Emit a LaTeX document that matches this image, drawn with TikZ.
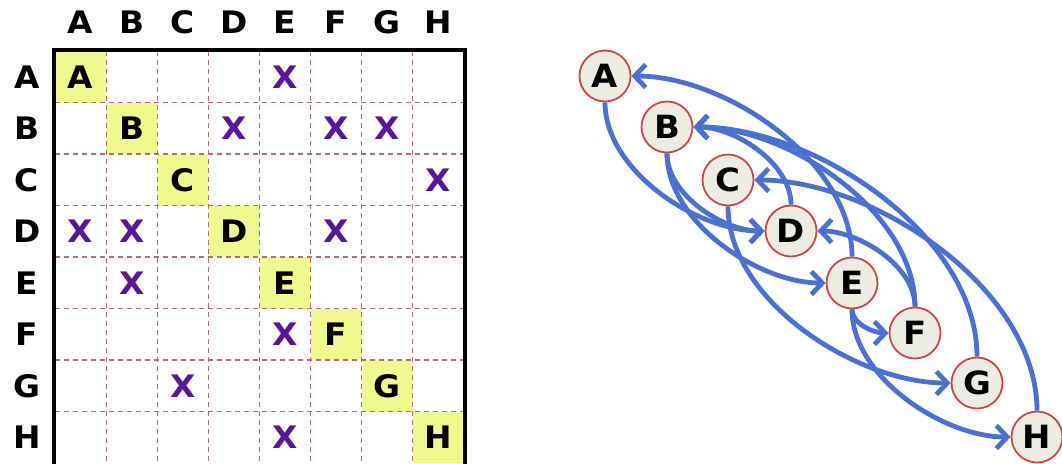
\documentclass[tikz,border=0pt]{standalone}
\usepackage{fontspec}
\setmainfont{DejaVu Sans}
\newfontfamily\labelfont[FakeStretch=1.06]{DejaVu Sans Bold}
\usetikzlibrary{arrows.meta,backgrounds}
\definecolor{cellyellow}{RGB}{240,250,140}
\definecolor{gridpink}{RGB}{175,110,125}
\definecolor{markpurple}{RGB}{88,22,155}
\definecolor{edgeblue}{RGB}{75,112,212}
\definecolor{nodefill}{RGB}{236,236,226}
\definecolor{noderim}{RGB}{205,70,70}
\tikzset{
  hdr/.style={font=\labelfont\fontsize{31}{31}\selectfont, text=black},
  diag/.style={font=\labelfont\fontsize{31}{31}\selectfont, text=black},
  xmark/.style={font=\labelfont\fontsize{31}{31}\selectfont, text=markpurple},
  vert/.style={circle, draw=noderim, line width=1.8pt, fill=nodefill,
    minimum size=51pt, inner sep=0pt, font=\labelfont\fontsize{32}{32}\selectfont},
  link/.style={draw=edgeblue, line width=4.8pt, looseness=0.85,
    -{Straight Barb[length=11pt,width=23pt,line width=4.8pt]}},
  fwd/.style={link, out=-90, in=180},
  bwd/.style={link, out=90, in=0},
}
\begin{document}
\begin{tikzpicture}[x=1pt,y=-1pt]
\useasboundingbox (0,0) rectangle (1062,463);
\begin{scope}
\clip (0,0) rectangle (1062,463);
% ---- adjacency matrix ----
\def\cw{51.125}
\def\rh{51.5}
\def\gx{55}
\def\gy{51}
% diagonal cells
\foreach \i in {1,...,8} {
  \fill[cellyellow] ({\gx+(\i-1)*\cw},{\gy+(\i-1)*\rh}) rectangle ++(\cw,\rh);
}
% dashed grid
\foreach \i in {1,...,7} {
  \draw[gridpink, line width=1.1pt, dash pattern=on 5pt off 4pt]
    ({\gx+\i*\cw},\gy) -- ({\gx+\i*\cw},{\gy+8*\rh+10});
  \draw[gridpink, line width=1.1pt, dash pattern=on 5pt off 4pt]
    (\gx,{\gy+\i*\rh}) -- ({\gx+8*\cw},{\gy+\i*\rh});
}
% frame
\draw[black, line width=4.5pt] (\gx-1,\gy-1) rectangle ({\gx+8*\cw+1},{\gy+8*\rh+12});
% headers and diagonal letters
\foreach \l [count=\i] in {A,B,C,D,E,F,G,H} {
  \node[hdr] (col\l) at ({\gx+(\i-0.5)*\cw},22) {\l};
  \node[hdr] (row\l) at (27,{\gy+(\i-0.5)*\rh}) {\l};
  \node[diag] (cell\l) at ({\gx+(\i-0.5)*\cw},{\gy+(\i-0.5)*\rh}) {\l};
}
% dependency marks (row, column)
\foreach \r/\c in {1/5, 2/4, 2/6, 2/7, 3/8, 4/1, 4/2, 4/6, 5/2, 6/5, 7/3, 8/5} {
  \node[xmark] (x\r\c) at ({\gx+(\c-0.5)*\cw},{\gy+(\r-0.5)*\rh}) {X};
}
\end{scope}
% ---- dependency graph ----
\node[vert] (A) at (605,76) {A};
\node[vert] (B) at (667,127) {B};
\node[vert] (C) at (728,180) {C};
\node[vert] (D) at (791,231) {D};
\node[vert] (E) at (852,283) {E};
\node[vert] (F) at (915,333) {F};
\node[vert] (G) at (977,383) {G};
\node[vert] (H) at (1037,437) {H};
\begin{pgfonlayer}{background}
  \draw[fwd] (A.south) to (D.west);
  \draw[fwd] (B.south) to (D.west);
  \draw[fwd] (B.south) to (E.west);
  \draw[fwd] (C.south) to (G.west);
  \draw[fwd] (E.south) to (F.west);
  \draw[fwd] (E.south) to (H.west);
  \draw[bwd] (E.north) to (A.east);
  \draw[bwd] (D.north) to (B.east);
  \draw[bwd] (F.north) to (B.east);
  \draw[bwd] (G.north) to (B.east);
  \draw[bwd] (H.north) to (C.east);
  \draw[bwd] (F.north) to (D.east);
\end{pgfonlayer}
\end{tikzpicture}
\end{document}
